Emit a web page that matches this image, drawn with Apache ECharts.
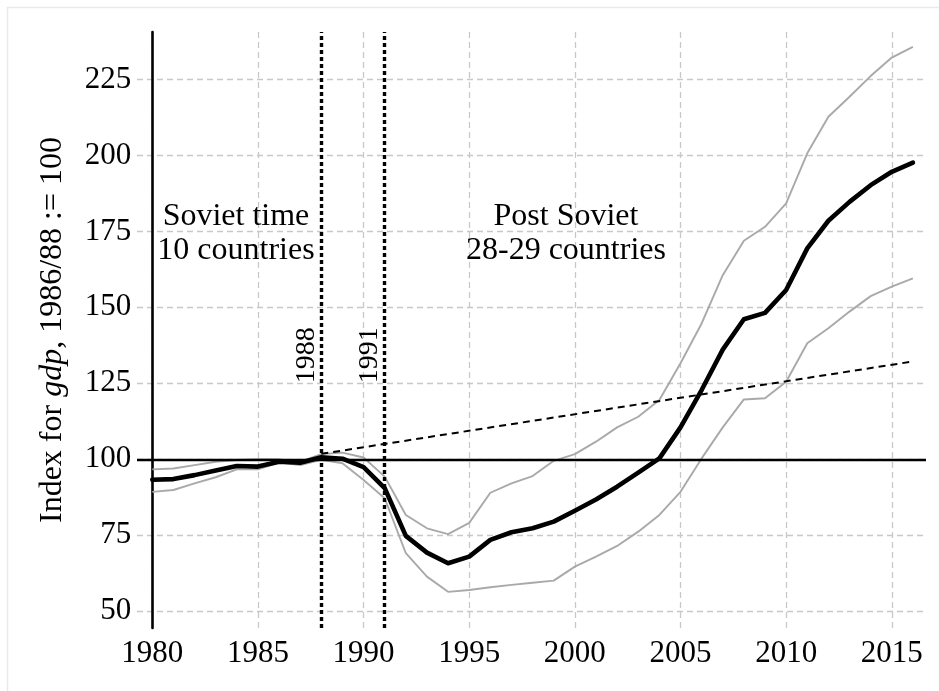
<!DOCTYPE html>
<html>
<head>
<meta charset="utf-8">
<script src="https://cdn.jsdelivr.net/npm/echarts@6/dist/echarts.min.js"></script>
<style>
  html, body { margin: 0; padding: 0; background: #ffffff; }
  #chart { width: 939px; height: 691px; }
</style>
</head>
<body>
<div id="chart"></div>
<script>
// ---- data ----
const years = [1980, 1981, 1982, 1983, 1984, 1985, 1986, 1987, 1988, 1989,
               1990, 1991, 1992, 1993, 1994, 1995, 1996, 1997, 1998, 1999,
               2000, 2001, 2002, 2003, 2004, 2005, 2006, 2007, 2008, 2009,
               2010, 2011, 2012, 2013, 2014, 2015, 2016];
const meanIndex = [93.3, 93.5, 94.8, 96.3, 97.8, 97.6, 99.2, 98.9, 100.7, 100.2,
                   97.4, 90.5, 74.8, 69.3, 65.8, 68.0, 73.5, 76.0, 77.3, 79.5,
                   83.1, 86.8, 91.0, 95.6, 100.3, 110.5, 122.8, 136.1, 146.1, 148.2,
                   155.7, 169.4, 178.5, 184.7, 190.2, 194.6, 197.6];
const upperIndex = [96.7, 97.0, 98.1, 99.2, 99.8, 100.0, 100.0, 99.2, 101.7, 102.2,
                    100.6, 94.3, 81.7, 77.3, 75.4, 79.1, 89.0, 92.1, 94.5, 99.5,
                    101.7, 105.8, 110.5, 114.0, 119.5, 131.6, 144.7, 160.6, 171.9, 176.5,
                    184.2, 200.7, 212.7, 219.3, 226.1, 232.2, 235.7];
const lowerIndex = [89.3, 89.9, 92.1, 94.1, 96.7, 96.7, 98.9, 98.1, 99.8, 98.7,
                    93.2, 87.2, 69.1, 61.4, 56.4, 57.0, 57.9, 58.7, 59.4, 60.1,
                    64.7, 68.0, 71.5, 76.2, 81.7, 89.3, 100.3, 110.5, 119.7, 120.1,
                    125.5, 138.2, 143.1, 148.6, 153.7, 156.8, 159.5];
const trendYears = [1988, 2016];
const trendIndex = [101.8, 132.2];
const baseLevel = 100;
const markerYears = [1988, 1991];
const xTicks = [1980, 1985, 1990, 1995, 2000, 2005, 2010, 2015];
const yTicks = [50, 75, 100, 125, 150, 175, 200, 225];
const sovietText = 'Soviet time\n10 countries';
const postText = 'Post Soviet\n28-29 countries';

// ---- chart ----
const FONT = '"Liberation Serif", "Times New Roman", serif';
const chart = echarts.init(document.getElementById('chart'), null, { renderer: 'canvas' });

const zip = (xs, ys) => xs.map((x, i) => [x, ys[i]]);
const gridDash = { color: '#c8c8c8', width: 1.3, type: [6, 4] };

const option = {
  animation: false,
  backgroundColor: '#ffffff',
  grid: { left: 137, right: 13, top: 32, bottom: 63, containLabel: false },
  xAxis: {
    type: 'value',
    min: 1979.276,
    max: 2016.62,
    axisLine: { show: false },
    axisTick: { show: false, customValues: xTicks },
    axisLabel: {
      customValues: xTicks,
      fontFamily: FONT, fontSize: 31, color: '#000', margin: 10,
      formatter: v => String(v)
    },
    splitLine: { show: true, lineStyle: gridDash }
  },
  yAxis: {
    type: 'value',
    min: 44.5,
    max: 240.6,
    offset: -15.3,
    axisLine: { show: true, lineStyle: { color: '#000', width: 2.6 } },
    axisTick: { show: false, customValues: yTicks },
    axisLabel: {
      customValues: yTicks,
      fontFamily: FONT, fontSize: 31, color: '#000', margin: 21
    },
    splitLine: { show: true, lineStyle: gridDash },
    name: '{a|Index for }{i|gdp}{a|, 1986/88 := 100}',
    nameLocation: 'middle',
    nameGap: 84,
    nameTextStyle: {
      fontFamily: FONT, fontSize: 32, color: '#000',
      rich: {
        a: { fontFamily: FONT, fontSize: 32, color: '#000' },
        i: { fontFamily: FONT, fontSize: 32, color: '#000', fontStyle: 'italic' }
      }
    }
  },
  series: [
    {
      type: 'line',
      data: [],
      silent: true,
      z: 1,
      markLine: {
        silent: true,
        symbol: 'none',
        label: { show: false },
        data: [
          { yAxis: baseLevel, lineStyle: { color: '#000', width: 2.3, type: 'solid' } },
          ...markerYears.map(y => ({ xAxis: y, lineStyle: { color: '#000', width: 3.4, type: [4, 3] } }))
        ]
      }
    },
    {
      type: 'line', data: zip(years, upperIndex), showSymbol: false, symbol: 'none',
      lineStyle: { color: '#a9a9a9', width: 1.9 }, z: 2, silent: true
    },
    {
      type: 'line', data: zip(years, lowerIndex), showSymbol: false, symbol: 'none',
      lineStyle: { color: '#a9a9a9', width: 1.9 }, z: 2, silent: true
    },
    {
      type: 'line', data: zip(trendYears, trendIndex), showSymbol: false, symbol: 'none',
      lineStyle: { color: '#000', width: 2, type: [7, 5] }, z: 3, silent: true
    },
    {
      type: 'line', data: zip(years, meanIndex), showSymbol: false, symbol: 'none',
      lineStyle: { color: '#000', width: 4.6, join: 'round', cap: 'round' }, z: 4, silent: true
    },
    {
      type: 'scatter', symbolSize: 0, silent: true, z: 5,
      itemStyle: { opacity: 1, color: '#000' },
      data: [[1983.96, 174.2], [1999.58, 174.2]],
      label: {
        show: true, position: 'inside', align: 'center', verticalAlign: 'middle',
        fontFamily: FONT, fontSize: 32, lineHeight: 34, color: '#000', opacity: 1,
        textBorderWidth: 0,
        formatter: p => (p.dataIndex === 0 ? sovietText : postText)
      }
    },
    {
      type: 'scatter', symbolSize: 0, silent: true, z: 5,
      itemStyle: { opacity: 1, color: '#000' },
      data: markerYears.map(y => [y, 125]),
      label: {
        show: true, position: [-1, 0], rotate: 90, align: 'left', verticalAlign: 'bottom',
        fontFamily: FONT, fontSize: 28, color: '#000', opacity: 1, textBorderWidth: 0,
        formatter: p => String(p.value[0])
      }
    }
  ],
  graphic: [
    { type: 'line', silent: true, shape: { x1: 7, y1: 7.5, x2: 939, y2: 7.5 }, style: { stroke: '#e6ecee', lineWidth: 1.5 } },
    { type: 'line', silent: true, shape: { x1: 7.5, y1: 7, x2: 7.5, y2: 691 }, style: { stroke: '#e6ecee', lineWidth: 1.5 } }
  ]
};
chart.setOption(option);
</script>
</body>
</html>
